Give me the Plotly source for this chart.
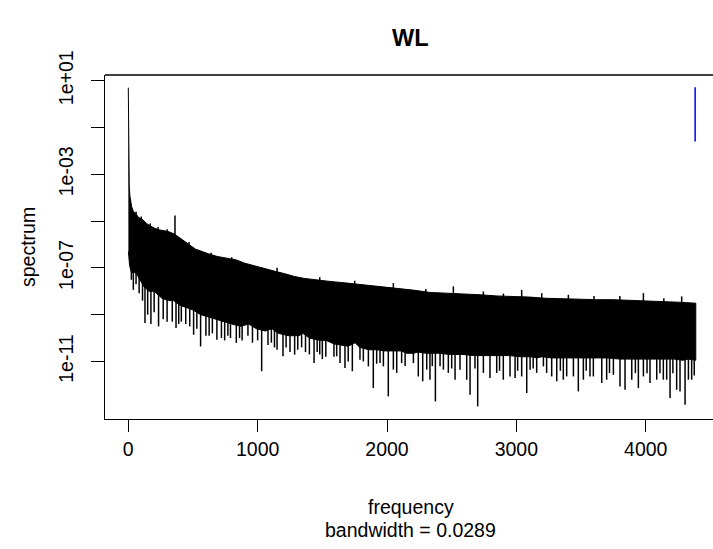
import plotly.graph_objects as go

# ---------------- data (spectrum values as log10) ----------------
# upper edge of the dense spectrum band
upper_freq = [0, 1.5, 4, 7.7, 13, 26, 39, 54, 80, 114, 140, 174, 200, 234, 270, 310, 355,
              385, 430, 475, 520, 565, 620, 685, 760, 835, 900, 986, 1060, 1136, 1210, 1286, 1360,
              1436, 1500, 1559, 1690, 1817, 1950, 2075, 2200, 2332, 2460, 2590, 2720, 2848,
              2970, 3105, 3230, 3363, 3500, 3621, 3750, 3879, 4000, 4136, 4260, 4387]
upper_log = [0.70, -2.6, -3.2, -3.53, -3.95, -4.38, -4.59, -4.66, -4.85, -4.95, -5.1, -5.23, -5.3,
             -5.37, -5.42, -5.45, -5.55, -5.66, -5.85, -6.02, -6.2, -6.30, -6.4, -6.51,
             -6.6, -6.66, -6.8, -6.94, -7.05, -7.15, -7.25, -7.37, -7.45, -7.51, -7.55, -7.58, -7.65,
             -7.72, -7.8, -7.86, -7.95, -8.05, -8.08, -8.1, -8.15, -8.2, -8.22, -8.25, -8.3, -8.33,
             -8.35, -8.36, -8.36, -8.38, -8.4, -8.44, -8.47, -8.51]

# small upward teeth on the upper edge (frequency, log10 base, log10 tip)
up_freq = [60, 100, 170, 230, 300, 361, 470, 640, 800, 1150, 1480, 1750, 2049, 2300, 2513, 2745,
           2900, 3041, 3196, 3402, 3600, 3800, 3982, 4140, 4278]
up_base = [-4.9, -5.0, -5.4, -5.5, -5.6, -5.7, -6.2, -6.6, -6.8, -7.3, -7.7, -7.8, -8.0, -8.2,
           -8.2, -8.3, -8.35, -8.35, -8.4, -8.45, -8.5, -8.5, -8.5, -8.55, -8.6]
up_tip = [-4.6, -4.8, -5.1, -5.25, -5.35, -4.76, -5.9, -6.35, -6.55, -7.0, -7.4, -7.55, -7.65,
          -7.9, -7.79, -8.01, -8.1, -7.94, -8.08, -8.15, -8.2, -8.2, -8.08, -8.3, -8.22]

# lower edge of the solid part of the band
body_freq = [1, 10, 24, 50, 69, 90, 120, 160, 200, 260, 310, 350, 400, 450, 500, 560, 620, 680, 740,
             800, 870, 930, 990, 1060, 1110, 1160, 1240, 1320, 1350, 1400, 1480, 1530, 1590, 1640,
             1700, 1753, 1790, 1860, 1920, 1980, 2040, 2110, 2152, 2204, 2240, 2300, 2355, 2400,
             2480, 2580, 2670, 2740, 2850, 2940, 3040, 3110, 3157, 3200, 3270, 3350, 3430, 3520,
             3610, 3700, 3800, 3870, 3990, 4080, 4160, 4220, 4285, 4330, 4387]
body_log = [-6.3, -6.9, -7.2, -7.2, -7.3, -7.5, -7.8, -8.0, -8.0, -8.3, -8.4, -8.4, -8.6, -8.7, -8.8,
            -9.0, -9.1, -9.2, -9.3, -9.4, -9.5, -9.4, -9.6, -9.7, -9.6, -9.8, -9.9, -9.9, -9.8,
            -10.0, -10.1, -10.1, -10.25, -10.3, -10.35, -10.2, -10.4, -10.5, -10.5, -10.55, -10.55,
            -10.55, -10.65, -10.65, -10.6, -10.65, -10.65, -10.65, -10.7, -10.7, -10.75, -10.75,
            -10.75, -10.75, -10.8, -10.8, -10.85, -10.8, -10.85, -10.85, -10.85, -10.85, -10.85,
            -10.85, -10.9, -10.9, -10.9, -10.9, -10.9, -10.9, -10.95, -10.9, -10.95]

# individual downward spikes below the band (frequency, log10 top, log10 bottom)
spike_freq = [24, 39, 60, 84, 110, 129, 150, 175, 200, 234, 270, 300, 340, 369, 390, 410, 444, 475,
              505, 530, 559, 600, 625, 650, 685, 720, 745, 770, 790, 835, 860, 880, 925, 960, 1000,
              1031, 1080, 1106, 1130, 1150, 1196, 1220, 1250, 1286, 1310, 1340, 1370, 1400, 1436,
              1460, 1480, 1500, 1527, 1590, 1611, 1637, 1675, 1700, 1732, 1791, 1817, 1856, 1894,
              1920, 1946, 1972, 2010, 2049, 2075, 2113, 2140, 2204, 2242, 2276, 2307, 2332, 2350,
              2374, 2410, 2436, 2474, 2500, 2526, 2564, 2616, 2642, 2680, 2701, 2745, 2796, 2848,
              2870, 2899, 2951, 2990, 3010, 3041, 3080, 3106, 3130, 3157, 3209, 3234, 3273, 3312,
              3340, 3363, 3389, 3441, 3479, 3518, 3540, 3569, 3595, 3660, 3698, 3720, 3750, 3801,
              3840, 3892, 3920, 3943, 3982, 4010, 4033, 4085, 4110, 4136, 4162, 4188, 4210, 4239,
              4265, 4304, 4330, 4355, 4375]
spike_bottom = [-7.51, -7.94, -7.7, -8.08, -8.4, -9.36, -9.0, -9.4, -8.9, -9.5, -9.2, -9.3, -9.3,
                -9.57, -9.4, -9.3, -9.4, -9.5, -9.86, -9.6, -10.36, -9.9, -9.9, -9.8, -10.07, -10.0,
                -10.1, -9.9, -10.0, -10.21, -10.0, -10.1, -9.9, -10.2, -10.1, -11.42, -10.3, -10.2,
                -10.4, -10.5, -10.78, -10.4, -10.6, -10.71, -10.5, -10.4, -10.6, -10.7, -11.07,
                -10.6, -10.7, -10.9, -10.8, -10.8, -10.78, -11.07, -11.28, -11.0, -11.42, -10.93,
                -11.0, -11.21, -12.14, -11.1, -11.07, -11.21, -12.49, -11.35, -11.49, -11.07, -11.2,
                -11.07, -11.64, -11.85, -11.35, -11.78, -11.2, -12.71, -11.21, -11.35, -11.49, -11.3,
                -11.78, -11.35, -11.78, -12.42, -11.3, -12.92, -11.49, -11.71, -11.49, -11.4, -11.78,
                -11.64, -11.71, -11.4, -11.64, -12.35, -11.35, -11.3, -11.49, -11.21, -11.49, -11.64,
                -11.85, -11.4, -11.78, -11.64, -11.64, -12.28, -11.78, -11.4, -11.64, -11.64, -11.92,
                -11.78, -11.5, -11.57, -12.07, -12.21, -11.78, -11.5, -12.14, -11.64, -11.5, -11.92,
                -11.78, -11.5, -11.78, -11.78, -12.56, -11.5, -12.21, -12.28, -12.85, -11.78, -11.78,
                -11.6]
# tops of the spikes: a level inside the solid band at each spike
spike_top = [-6.4, -6.4, -6.5, -6.7, -7.0, -7.2, -7.4, -7.5, -7.5, -7.6, -7.7, -7.8, -7.8, -7.9,
             -8.0, -8.0, -8.0, -8.1, -8.2, -8.2, -8.3, -8.4, -8.5, -8.5, -8.6, -8.6, -8.7, -8.7,
             -8.7, -8.8, -8.8, -8.8, -8.8, -8.9, -9.0, -9.0, -9.0, -9.0, -9.1, -9.1, -9.1, -9.2,
             -9.2, -9.2, -9.2, -9.2, -9.3, -9.3, -9.3, -9.3, -9.4, -9.4, -9.4, -9.5, -9.5, -9.6,
             -9.6, -9.6, -9.6, -9.7, -9.7, -9.7, -9.7, -9.7, -9.7, -9.8, -9.8, -9.8, -9.8, -9.8,
             -9.8, -9.8, -9.8, -9.9, -9.9, -9.9, -9.9, -9.9, -9.9, -9.9, -9.9, -9.9, -9.9, -10.0,
             -10.0, -10.0, -10.0, -10.0, -10.0, -10.0, -10.0, -10.0, -10.0, -10.0, -10.0, -10.0,
             -10.0, -10.0, -10.0, -10.0, -10.0, -10.1, -10.1, -10.1, -10.1, -10.1, -10.1, -10.1,
             -10.1, -10.1, -10.1, -10.1, -10.1, -10.1, -10.1, -10.1, -10.1, -10.1, -10.1, -10.1,
             -10.1, -10.1, -10.1, -10.1, -10.1, -10.1, -10.1, -10.1, -10.1, -10.1, -10.1, -10.1,
             -10.1, -10.1, -10.1, -10.1, -10.1, -10.1, -10.1]

# confidence-interval bar (blue)
ci_freq = 4382
ci_upper = 5.2
ci_lower = 0.025

x_ticks = [0, 1000, 2000, 3000, 4000]
y_ticks = [1e1, 1e-1, 1e-3, 1e-5, 1e-7, 1e-9, 1e-11]
y_ticktext = ["1e+01", "", "1e-03", "", "1e-07", "", "1e-11"]

title_text = "WL"
xlab = "frequency"
sublab = "bandwidth = 0.0289"
ylab = "spectrum"

# ---------------- figure ----------------
FONT = "Liberation Sans, Arial, sans-serif"
fig = go.Figure()

poly_x = upper_freq + body_freq[::-1]
poly_y = [10 ** v for v in upper_log] + [10 ** v for v in body_log[::-1]]
fig.add_trace(go.Scatter(x=poly_x, y=poly_y, mode="lines", fill="toself",
                         fillcolor="black", line=dict(color="black", width=1),
                         hoverinfo="skip", showlegend=False))

sx, sy = [], []
for f, t, b in zip(spike_freq, spike_top, spike_bottom):
    sx += [f, f, None]
    sy += [10 ** t, 10 ** b, None]
for f, b, t in zip(up_freq, up_base, up_tip):
    sx += [f, f, None]
    sy += [10 ** b, 10 ** t, None]
fig.add_trace(go.Scatter(x=sx, y=sy, mode="lines", line=dict(color="black", width=1.5),
                         hoverinfo="skip", showlegend=False))

fig.add_trace(go.Scatter(x=[ci_freq, ci_freq], y=[ci_upper, ci_lower], mode="lines",
                         line=dict(color="#0000FF", width=1.5), showlegend=False))

fig.update_layout(
    width=713, height=549,
    margin=dict(l=105, r=0, t=75, b=130),
    paper_bgcolor="white", plot_bgcolor="white",
    font=dict(family=FONT, size=19.5, color="black"),
    showlegend=False,
    xaxis=dict(range=[-180, 4520], tickvals=x_ticks, ticks="outside", ticklen=12,
               tickwidth=1.3, tickcolor="black", showline=True, linecolor="black",
               linewidth=1.3, showgrid=False, zeroline=False,
               tickfont=dict(family=FONT, size=19.5)),
    yaxis=dict(type="log", range=[-13.46, 1.243], tickvals=y_ticks, ticktext=y_ticktext,
               tickangle=-90, ticks="outside", ticklen=13, tickwidth=1.3, tickcolor="black",
               showline=True, linecolor="black", linewidth=1.3, showgrid=False,
               zeroline=False, ticklabelstandoff=10, tickfont=dict(family=FONT, size=19.5)),
    shapes=[dict(type="line", xref="paper", yref="paper", x0=0, x1=1, y0=1, y1=1,
                 line=dict(color="black", width=1.3))],
    annotations=[
        dict(text="<b>" + title_text + "</b>", xref="paper", yref="paper", x=0.503,
             y=(419.3 - 38) / 344.3, xanchor="center", yanchor="middle", showarrow=False,
             font=dict(family=FONT, size=23.5)),
        dict(text=xlab, xref="paper", yref="paper", x=0.503, y=(419.3 - 507) / 344.3,
             xanchor="center", yanchor="middle", showarrow=False),
        dict(text=sublab, xref="paper", yref="paper", x=0.503, y=(419.3 - 530) / 344.3,
             xanchor="center", yanchor="middle", showarrow=False),
        dict(text=ylab, xref="paper", yref="paper", x=(28 - 105) / 608, y=0.5,
             xanchor="center", yanchor="middle", textangle=-90, showarrow=False),
    ],
)

fig.write_html("out.html")
